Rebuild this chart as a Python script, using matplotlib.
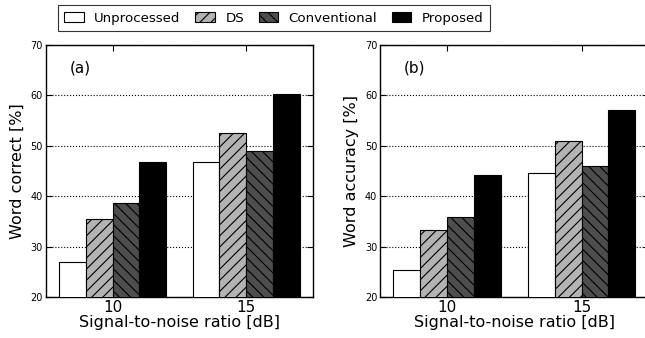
import matplotlib
matplotlib.use("Agg")
import matplotlib.pyplot as plt
from matplotlib.font_manager import FontProperties
import numpy as np

snr_labels = ["10", "15"]
methods = ["Unprocessed", "DS", "Conventional", "Proposed"]
word_correct = {
    "Unprocessed": [27.0, 46.7],
    "DS": [35.4, 52.6],
    "Conventional": [38.7, 48.9],
    "Proposed": [46.8, 60.3],
}
word_accuracy = {
    "Unprocessed": [25.4, 44.6],
    "DS": [33.2, 50.9],
    "Conventional": [35.9, 46.0],
    "Proposed": [44.3, 57.1],
}

colors = ["white", "#b3b3b3", "#4d4d4d", "black"]
hatches = ["", "///", "\\\\\\", ""]

plt.rcParams['hatch.linewidth'] = 0.8
fig = plt.figure(figsize=(6.45, 3.38), dpi=100)
ax1 = fig.add_axes([45.7/645, 1-297/338, 267.3/645, 252/338])
ax2 = fig.add_axes([380/645, 1-297/338, 268.7/645, 252/338])

x = np.arange(len(snr_labels))
w = 0.2
handles = []
for ax, data, ylabel, tag in [(ax1, word_correct, "Word correct [%]", "(a)"),
                              (ax2, word_accuracy, "Word accuracy [%]", "(b)")]:
    for i, m in enumerate(methods):
        b = ax.bar(x - 0.4 + i * w, data[m], w, align='edge', color=colors[i],
                   edgecolor='black', linewidth=0.8, hatch=hatches[i], label=m,
                   zorder=3)
        if ax is ax1:
            handles.append(b)
    ax.set_xlim(-0.5, 1.5)
    ax.set_ylim(20, 70)
    ax.set_yticks([20, 30, 40, 50, 60, 70])
    ax.set_xticks(x)
    ax.set_xticklabels(snr_labels, fontsize=11)
    ax.tick_params(axis='y', labelsize=7)
    ax.tick_params(direction='in', top=True, right=True, length=4, pad=2)
    ax.yaxis.grid(True, linestyle=':', color='black', linewidth=0.8, zorder=0)
    ax.set_axisbelow(True)
    ax.set_xlabel("Signal-to-noise ratio [dB]", fontsize=11.5, labelpad=0)
    ax.set_ylabel(ylabel, fontsize=11.5, labelpad=4)
    ax.text(0.09, 0.91, tag, transform=ax.transAxes, fontsize=11, va='center', ha='left')
    for s in ax.spines.values():
        s.set_linewidth(1.0)

legfont = FontProperties(family='DejaVu Sans', size=9.6)
leg = fig.legend(handles, methods, loc='upper center', bbox_to_anchor=(274/645, 1-5/338),
                 ncol=4, prop=legfont, handlelength=1.45, handleheight=0.7,
                 handletextpad=0.8, columnspacing=1.1, fancybox=False,
                 edgecolor='#333333', framealpha=1, borderpad=0.5, borderaxespad=0)
leg.get_frame().set_linewidth(0.8)

fig.savefig("out.png", dpi=100)
